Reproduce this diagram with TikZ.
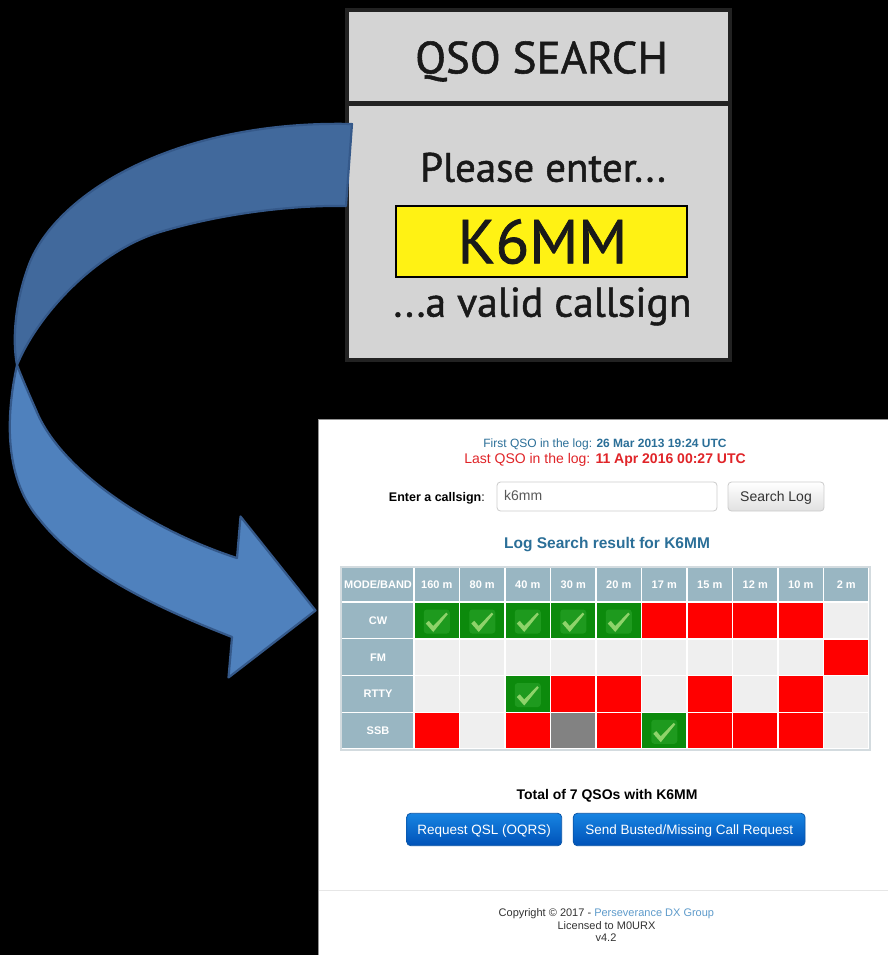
\documentclass[tikz,border=0pt]{standalone}
\usepackage{fontspec}
\setmainfont{Liberation Sans}
\newfontfamily\boxfont[FakeBold=1.2]{PT Sans}

% palette
\definecolor{arrowdark}{HTML}{41699C}
\definecolor{arrowlight}{HTML}{4F81BD}
\definecolor{arrowedge}{HTML}{35598A}
\definecolor{boxgrey}{HTML}{D4D4D4}
\definecolor{boxedge}{HTML}{222222}
\definecolor{plate}{HTML}{FFF214}
\definecolor{tealtext}{HTML}{2B6F98}
\definecolor{redtext}{HTML}{E02428}
\definecolor{hdrcell}{HTML}{99B6C2}
\definecolor{emptycell}{HTML}{EFEFEF}
\definecolor{redcell}{HTML}{FF0000}
\definecolor{greencell}{HTML}{0C8A0C}
\definecolor{greeninner}{HTML}{1E9A1E}
\definecolor{checkgreen}{HTML}{8ED36A}
\definecolor{greycell}{HTML}{828282}
\definecolor{tableframe}{HTML}{D3DBDF}
\definecolor{btntop}{HTML}{1784E2}
\definecolor{btnbot}{HTML}{0052B8}
\definecolor{btnedge}{HTML}{0B56A8}
\definecolor{inputedge}{HTML}{CCCCCC}
\definecolor{linkblue}{HTML}{5E9BCB}
\definecolor{footgrey}{HTML}{333333}
\definecolor{rulegrey}{HTML}{E6E6E6}

\tikzset{
  hdrtext/.style={font=\bfseries\fontsize{11}{12}\selectfont, text=white, inner sep=0pt},
  webtext/.style={anchor=base, inner sep=0pt},
  boxtext/.style={anchor=base, inner sep=0pt, text=black!90},
  ribbon/.style={draw=arrowedge, line width=2.2pt, line join=round},
  bluebtn/.style={draw=btnedge, line width=0.8pt, rounded corners=4pt, top color=btntop, bottom color=btnbot},
  checkmark/.pic={
    \fill[greeninner, rounded corners=3pt] (-13,-11) rectangle (13,13);
    \fill[checkgreen] (-11,3) -- (-8,0.3) -- (-3.5,5.5) -- (9.5,-8) -- (11,-6.3) -- (-3.5,11.5) -- cycle;
  }
}

\begin{document}
\begin{tikzpicture}[x=1pt, y=-1pt]
\useasboundingbox (0,0) rectangle (888,955);
\fill[black] (0,0) rectangle (888,955);

% ---------- web page panel ----------
\fill[white] (318,419) rectangle (888,955);
\draw[gray!85, line width=1pt] (318,955) -- (318,419) -- (888,419);

\node[webtext, font=\fontsize{12}{14}\selectfont, text=tealtext] (first) at (605,447.3)
  {First QSO in the log: \textbf{26 Mar 2013 19:24 UTC}};
\node[webtext, font=\fontsize{14}{16}\selectfont, text=redtext] (last) at (605,463.5)
  {Last QSO in the log: \textbf{11 Apr 2016 00:27 UTC}};

\node[webtext, anchor=base east, font=\fontsize{12.5}{14}\selectfont] (enter) at (485,501)
  {\textbf{Enter a callsign}:};
\draw[inputedge, line width=0.8pt, rounded corners=3.5pt, fill=white] (497,482) rectangle (717,511);
\node[webtext, anchor=base west, font=\fontsize{14}{16}\selectfont, text=black!65] (typed) at (504,500.5) {k6mm};
\path[draw=inputedge, line width=0.8pt, rounded corners=3.5pt, top color=white, bottom color=black!12]
  (728,482) rectangle (824,511);
\node[webtext, font=\fontsize{14}{16}\selectfont, text=black!80] (search) at (776,501.5) {Search Log};

\node[webtext, font=\bfseries\fontsize{15.5}{18}\selectfont, text=tealtext] (result) at (607,548.3)
  {Log Search result for K6MM};

% ---------- result table ----------
\fill[hdrcell] (342,568) rectangle (413.4,601.4);
\node[hdrtext] (modeband) at (378,585) {MODE/BAND};
\foreach \lab [count=\i] in {160 m,80 m,40 m,30 m,20 m,17 m,15 m,12 m,10 m,2 m} {
  \pgfmathsetmacro\xl{414+45.5*(\i-1)}
  \fill[hdrcell] (\xl+0.6,568) rectangle (\xl+44.9,601.4);
  \node[hdrtext] (band\i) at (\xl+22.75,585) {\lab};
}
\foreach \lab [count=\r] in {CW,FM,RTTY,SSB} {
  \pgfmathsetmacro\yt{602+36.75*(\r-1)}
  \fill[hdrcell] (342,\yt+0.6) rectangle (413.4,\yt+36.15);
  \node[hdrtext] (mode\r) at (378,\yt+18.6) {\lab};
  \foreach \i in {1,...,10} {
    \pgfmathsetmacro\xl{414+45.5*(\i-1)}
    \fill[emptycell] (\xl+0.75,\yt+0.75) rectangle (\xl+44.75,\yt+36);
  }
}
% unconfirmed contacts
\foreach \i/\r in {6/1,7/1,8/1,9/1,10/2,4/3,5/3,7/3,9/3,1/4,3/4,5/4,7/4,8/4,9/4} {
  \pgfmathsetmacro\xl{414+45.5*(\i-1)}
  \pgfmathsetmacro\yt{602+36.75*(\r-1)}
  \fill[redcell] (\xl+0.75,\yt+0.75) rectangle (\xl+44.75,\yt+36);
}
% confirmed contacts
\foreach \i/\r in {1/1,2/1,3/1,4/1,5/1,3/3,6/4} {
  \pgfmathsetmacro\xl{414+45.5*(\i-1)}
  \pgfmathsetmacro\yt{602+36.75*(\r-1)}
  \fill[greencell] (\xl+0.75,\yt+0.75) rectangle (\xl+44.75,\yt+36);
  \pic at (\xl+22.75,\yt+18.5) {checkmark};
}
% pending contact
\fill[greycell] (550.5+0.75,712.25+0.75) rectangle (550.5+44.75,712.25+36);
\draw[tableframe, line width=1.6pt] (341.2,567.2) rectangle (869.8,749.8);

\node[webtext, font=\bfseries\fontsize{14}{16}\selectfont] (total) at (607,799)
  {Total of 7 QSOs with K6MM};
\path[bluebtn] (406.7,813.3) rectangle (561.7,845.7);
\node[webtext, font=\fontsize{13.5}{16}\selectfont, text=white] (oqrs) at (484.2,834.3) {Request QSL (OQRS)};
\path[bluebtn] (573.3,813.3) rectangle (805,845.7);
\node[webtext, font=\fontsize{13.5}{16}\selectfont, text=white] (busted) at (689.2,834.3) {Send Busted/Missing Call Request};

% footer
\draw[rulegrey, line width=1pt] (318.5,890.5) -- (888,890.5);
\node[webtext, font=\fontsize{11}{13}\selectfont, text=footgrey] (copy) at (606.4,916.7)
  {Copyright © 2017 - \textcolor{linkblue}{Perseverance DX Group}};
\node[webtext, font=\fontsize{11}{13}\selectfont, text=footgrey] (lic) at (606.5,929)
  {Licensed to M0URX};
\node[webtext, font=\fontsize{11}{13}\selectfont, text=footgrey] (ver) at (606,941.7) {v4.2};

% ---------- search card ----------
\draw[boxedge, line width=4pt, fill=boxgrey] (347,10) rectangle (730,360);
\draw[boxedge, line width=5pt] (347,103.5) -- (730,103.5);
\node[boxtext, font=\boxfont\fontsize{45}{50}\selectfont] (title) at (541.5,73.3) {QSO SEARCH};
\node[boxtext, font=\boxfont\fontsize{41}{46}\selectfont] (please) at (543,181.7) {Please enter...};
\draw[black, line width=2pt, fill=plate] (395.5,205.5) rectangle (686.5,276.5);
\node[boxtext, font=\boxfont\fontsize{62}{66}\selectfont] (call) at (542.5,263.3) {K6MM};
\node[boxtext, font=\boxfont\fontsize{41.5}{46}\selectfont] (valid) at (542.5,316.7) {...a valid callsign};

% ---------- twisted ribbon arrow ----------
\path[ribbon, fill=arrowdark]
  (352,124) .. controls (180,120) and (60,190) .. (30,262)
  .. controls (15,300) and (12,340) .. (17,365)
  .. controls (40,310) and (100,250) .. (160,232)
  .. controls (220,214) and (290,205) .. (346,206) -- cycle;
\path[ribbon, fill=arrowlight]
  (17,365) .. controls (5,420) and (5,480) .. (40,520)
  .. controls (80,570) and (150,605) .. (232,637)
  -- (228.5,677.5) -- (315.5,610.5) -- (240.5,516.5) -- (237,558)
  .. controls (150,530) and (60,470) .. (36,410)
  .. controls (28,392) and (22,378) .. (17,365) -- cycle;
\end{tikzpicture}
\end{document}
